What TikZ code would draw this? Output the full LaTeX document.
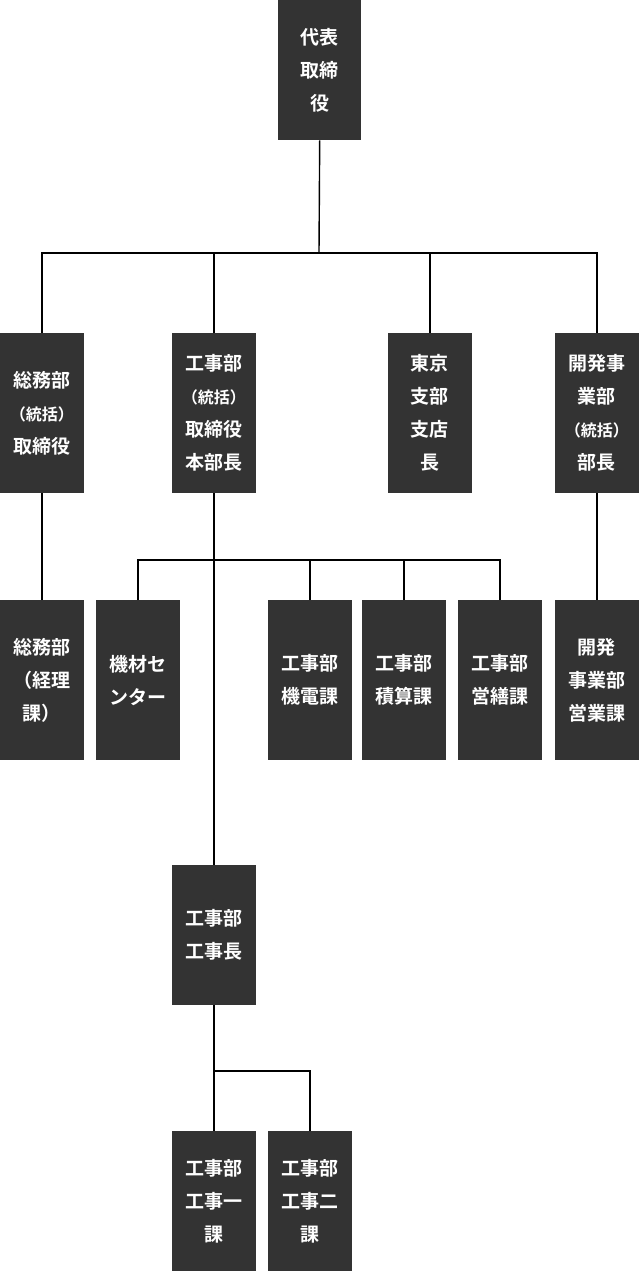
\documentclass[tikz,border=0pt]{standalone}
\usepackage{fontspec}
\setmainfont{Noto Sans CJK JP}[BoldFont={Noto Sans CJK JP Bold}]
\usetikzlibrary{positioning}
\definecolor{boxgray}{rgb}{0.2,0.2,0.2}
\tikzset{
  box/.style={fill=boxgray,text=white,font=\bfseries\fontsize{19}{33}\selectfont,
    align=center,inner sep=0pt,minimum width=83.5pt,anchor=north west},
  tall/.style={box,minimum height=160pt},
  short/.style={box,minimum height=140pt},
  wire/.style={draw=black,line width=1.4pt}
}
\begin{document}
\begin{tikzpicture}[x=1pt,y=-1pt]
  \useasboundingbox (0,0) rectangle (638,1272);
  % top
  \node[short,minimum width=83pt] (ceo) at (278,0) {代表\\取締\\役};
  % second row
  \node[tall] (soumu) at (0,333) {総務部\\{\fontsize{16}{33}\selectfont（統括）}\\取締役};
  \node[tall] (kouji) at (172,333) {工事部\\{\fontsize{16}{33}\selectfont（統括）}\\取締役\\本部長};
  \node[tall] (tokyo) at (388,333) {東京\\支部\\支店\\長};
  \node[tall] (kaihatsu) at (555,333) {開発事\\業部\\{\fontsize{16}{33}\selectfont（統括）}\\部長};
  % third row
  \node[tall] (keiri) at (0,600) {総務部\\（経理\\課）};
  \node[tall] (kizai) at (96,600) {機材セ\\ンター};
  \node[tall] (kiden) at (268,600) {工事部\\機電課};
  \node[tall] (sekisan) at (362,600) {工事部\\積算課};
  \node[tall] (eizen) at (458,600) {工事部\\営繕課};
  \node[tall] (eigyou) at (555,600) {開発\\事業部\\営業課};
  % lower rows
  \node[short] (koujichou) at (172,865) {工事部\\工事長};
  \node[short] (ikka) at (172,1131) {工事部\\工事一\\課};
  \node[short] (nika) at (268,1131) {工事部\\工事二\\課};
  % connectors
  \coordinate (bus1) at (319,253);
  \draw[wire] (ceo.south) -- (bus1);
  \foreach \n in {soumu,kouji,tokyo,kaihatsu}
    \draw[wire] (\n.north) |- (bus1);
  \draw[wire] (soumu.south) -- (keiri.north);
  \draw[wire] (kaihatsu.south) -- (eigyou.north);
  \draw[wire] (kouji.south) -- (koujichou.north);
  \coordinate (bus2) at (214,560);
  \foreach \n in {kizai,kiden,sekisan,eizen}
    \draw[wire] (\n.north) |- (bus2);
  \coordinate (bus3) at (214,1071);
  \draw[wire] (koujichou.south) -- (ikka.north);
  \draw[wire] (nika.north) |- (bus3);
\end{tikzpicture}
\end{document}
